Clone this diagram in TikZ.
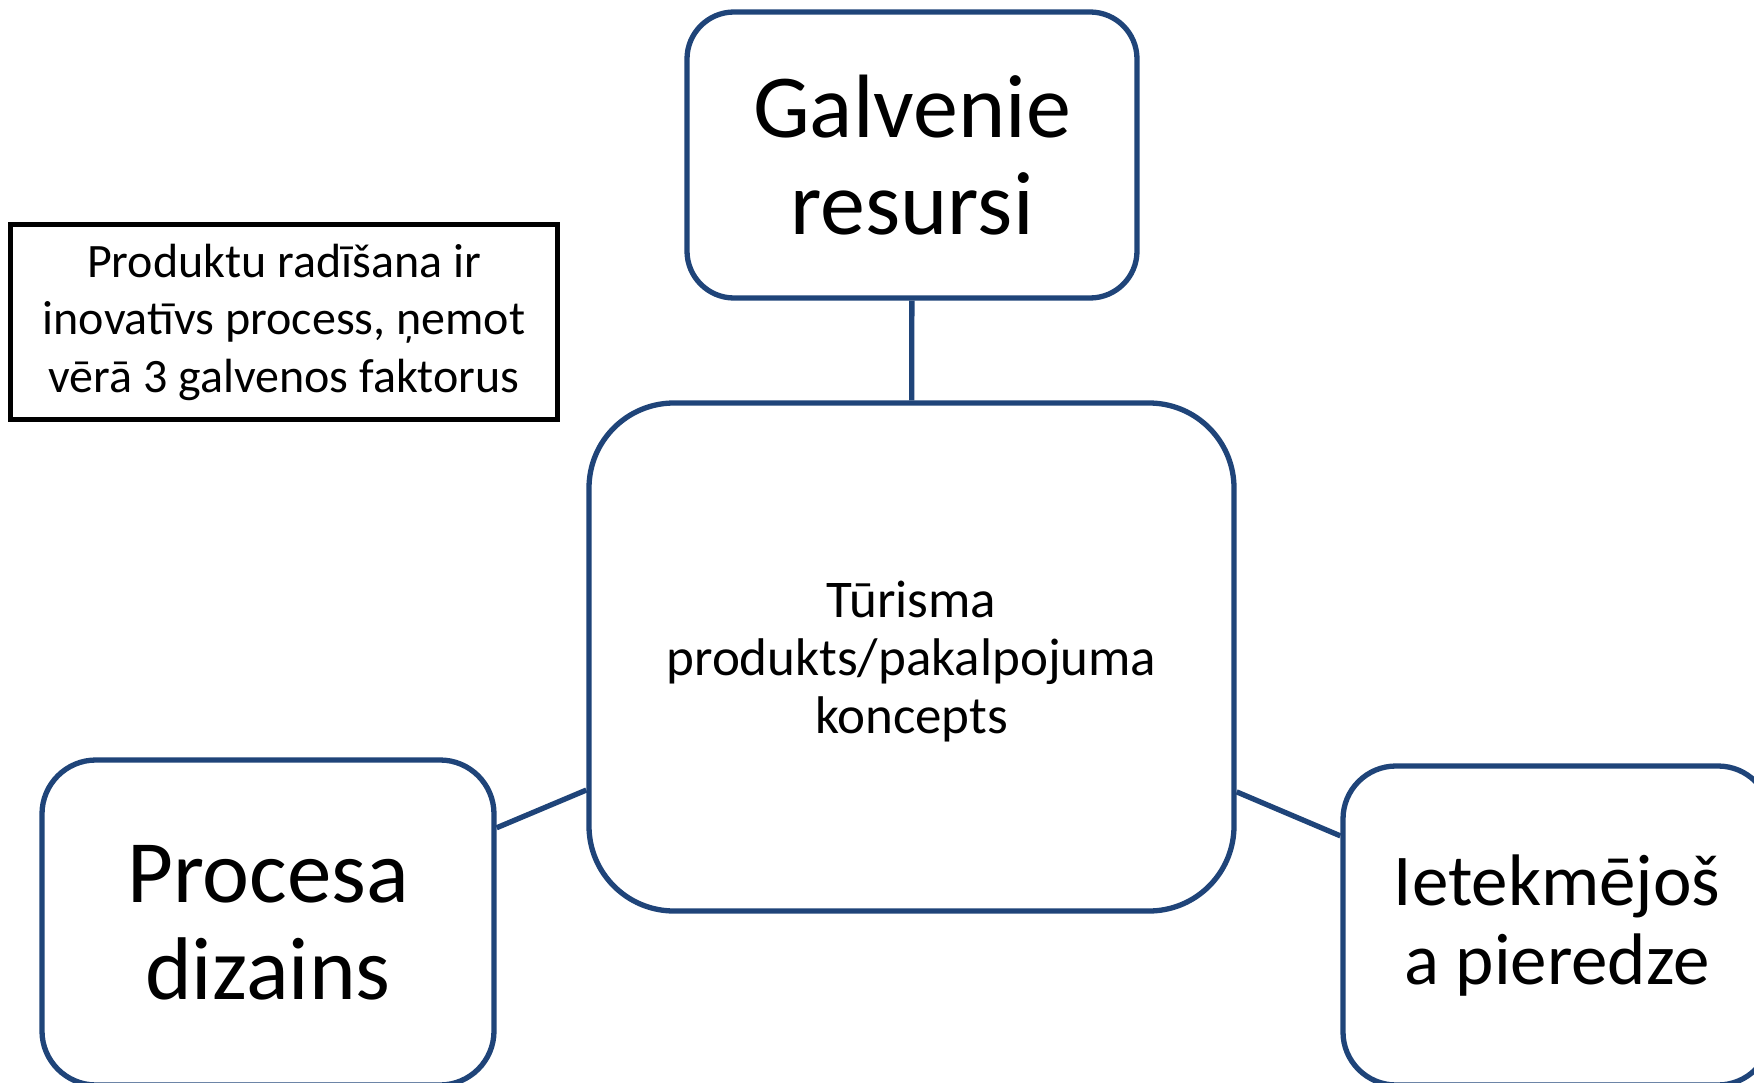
\documentclass[tikz,border=0pt]{standalone}
\usepackage{fontspec}
\setmainfont{Carlito}
\definecolor{boxblue}{RGB}{31,68,121}
\begin{document}
\begin{tikzpicture}[x=1pt,y=-1pt,
  rbox/.style={draw=boxblue, line width=5.3pt, rectangle, align=center, inner sep=0pt, fill=white},
  conn/.style={draw=boxblue, line width=5.3pt},
  note/.style={draw=black, line width=5pt, rectangle, align=center, inner sep=0pt}]
\useasboundingbox (0,0) rectangle (1754,1083);
\node[rbox, minimum width=450pt, minimum height=286pt, rounded corners=47pt,
  font=\fontsize{90pt}{97pt}\selectfont] (G) at (912,155) {Galvenie\\resursi};
\node[rbox, minimum width=645pt, minimum height=508pt, rounded corners=85pt] (C) at (911.5,657) {};
\node[align=center, inner sep=0pt, font=\fontsize{53pt}{58pt}\selectfont] (Ct) at (911.5,662) {Tūrisma\\produkts/pakalpojuma\\koncepts};
\node[rbox, minimum width=452pt, minimum height=325pt, rounded corners=54pt,
  font=\fontsize{89pt}{97pt}\selectfont] (P) at (268,922.5) {Procesa\\dizains};
\node[rbox, minimum width=428pt, minimum height=319pt, rounded corners=53pt,
  font=\fontsize{73pt}{79pt}\selectfont] (R) at (1557,925.5) {Ietekmējoš\\a pieredze};
\node[note, minimum width=546.5pt, minimum height=195pt,
  font=\fontsize{48pt}{57.5pt}\selectfont] (L) at (284,322) {Produktu radīšana ir\\inovatīvs process, ņemot\\vērā 3 galvenos faktorus};
\draw[conn] (G) -- (C);
\draw[conn] (P) -- (C);
\draw[conn] (C) -- (R);
\end{tikzpicture}
\end{document}
